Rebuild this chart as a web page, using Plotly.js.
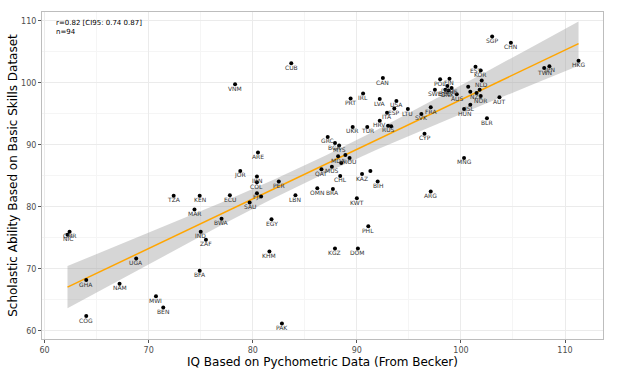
<!DOCTYPE html>
<html>
<head>
<meta charset="utf-8">
<script src="https://cdn.plot.ly/plotly-3.0.1.min.js"></script>
<style>html,body{margin:0;padding:0;background:#fff}#chart{width:630px;height:369px}</style>
</head>
<body>
<div id="chart"></div>
<script>
// Country codes (empty = label hidden in the reference)
const codes = ["SGP","CHN","HKG","JPN","TWN","EST","KOR","NLD","POL","FIN",
  "SWE","DEU","CHE","BEL","DNK","AUS","","","NZL","",
  "NOR","AUT","HUN","ISL","BLR","FRA","SVK","CYP","MNG","ARG",
  "CAN","PRT","IRL","LVA","USA","LTU","ESP","ITA","HRV","RUS",
  "","UKR","TUR","GRC","BGR","MYS","MDA","","","ROU",
  "QAT","MUS","CHL","KAZ","","BIH","OMN","BRA","KWT","PHL",
  "KGZ","DOM","PAK","KHM","EGY","LBN","PER","ARE","JOR","IRN",
  "COL","FJI","","SAU","ECU","TZA","KEN","MAR","BWA","IND",
  "ZAF","BFA","UGA","GHA","NAM","MWI","BEN","COG","CMR","NIC",
  "VNM","CUB"];
// IQ based on psychometric data (x)
const iq = [103.0,104.8,111.3,108.5,108.0,101.4,101.9,102.0,98.0,98.9,
  97.5,98.7,99.1,98.5,98.8,99.6,100.7,100.9,101.5,101.8,
  101.9,103.7,100.3,100.9,102.5,97.1,96.2,96.5,100.3,97.1,
  92.5,89.4,90.6,92.2,93.8,94.9,93.6,92.9,92.2,93.0,
  93.3,89.6,91.0,87.2,87.9,88.3,88.2,88.9,88.5,89.3,
  86.6,87.6,88.4,90.5,91.3,92.0,86.2,87.7,90.0,91.1,
  87.9,90.1,82.8,81.6,81.8,84.1,82.5,80.5,78.8,80.4,
  80.4,80.4,80.8,79.7,77.8,72.4,74.9,74.4,77.0,75.0,
  75.5,74.9,68.8,64.0,67.2,70.7,71.4,64.0,62.4,62.2,
  78.3,83.7];
// Scholastic ability (y)
const sas = [107.5,106.5,103.6,102.7,102.4,102.6,102.0,100.4,100.6,100.7,
  98.9,99.5,99.2,98.9,98.8,98.2,99.4,98.6,98.4,98.9,
  97.9,97.7,95.8,96.5,94.3,96.1,95.0,91.8,87.9,82.5,
  100.8,97.5,98.3,97.4,97.1,95.8,95.9,95.2,93.9,93.1,
  93.0,92.9,92.9,91.3,90.3,89.9,88.2,88.4,87.1,87.9,
  86.1,86.5,85.0,85.3,85.8,84.1,83.0,82.9,81.4,76.9,
  73.3,73.3,61.2,72.8,78.0,81.9,84.1,88.8,85.8,84.9,
  84.0,82.2,81.7,80.7,81.9,81.8,81.8,79.6,78.1,76.0,
  74.7,69.7,71.7,68.2,67.6,65.6,63.8,62.4,76.0,75.5,
  99.8,103.2];
// Regression fit and 95% band
const fitX = [62.2,67,72,77,82,87,92,97,102,107,111.3];
const fitY = [67.06,70.9,74.9,78.9,82.9,86.9,90.9,94.9,98.9,102.9,106.34];
const fitLo = [63.66,68.05,72.6,77.07,81.41,85.49,89.3,92.9,96.39,99.82,102.76];
const fitHi = [70.46,73.75,77.2,80.73,84.39,88.31,92.5,96.9,101.41,105.98,109.92];
const statText = ["r=0.82 [CI95: 0.74 0.87]","n=94"];

const traces = [
  {x: fitX, y: fitLo, mode:'lines', line:{width:0}, hoverinfo:'skip', showlegend:false},
  {x: fitX, y: fitHi, mode:'lines', line:{width:0}, fill:'tonexty', fillcolor:'rgba(153,153,153,0.4)', hoverinfo:'skip', showlegend:false},
  {x: fitX, y: fitY, mode:'lines', line:{color:'#FFA500', width:1.5}, showlegend:false},
  {x: iq, y: sas, mode:'markers', marker:{color:'#000', size:4}, showlegend:false}
];

const labelAnn = codes.map((c, i) => c ? ({
  x: iq[i], y: sas[i], xref:'x', yref:'y', text: c, showarrow:false,
  yshift:-4, font:{family:'DejaVu Sans', size:6, color:'#333'}
}) : null).filter(a => a);

const axisBase = {
  showgrid:true, gridcolor:'#ebebeb', gridwidth:1,
  minor:{dtick:5, showgrid:true, gridcolor:'#f5f5f5', gridwidth:1},
  zeroline:false, showline:true, mirror:true, linecolor:'#bdbdbd', linewidth:1,
  ticks:'outside', ticklen:3, tickcolor:'#555', dtick:10,
  tickfont:{family:'DejaVu Sans', size:8, color:'#4d4d4d'}
};

const layout = {
  width:630, height:369,
  margin:{l:42, r:27, t:12, b:30},
  paper_bgcolor:'#fff', plot_bgcolor:'#fff',
  xaxis: Object.assign({}, axisBase, {range:[59.75,113.65],
    title:{text:'IQ Based on Pychometric Data (From Becker)', font:{family:'DejaVu Sans', size:12, color:'#000'}, standoff:2}}),
  yaxis: Object.assign({}, axisBase, {range:[58.7,111.45],
    title:{text:'Scholastic Ability Based on Basic Skills Dataset', font:{family:'DejaVu Sans', size:12, color:'#000'}, standoff:0}}),
  annotations: [{xref:'paper', yref:'paper', x:0.022, y:0.985, xanchor:'left', yanchor:'top', align:'left', showarrow:false,
    text: statText.join('<br>'), font:{family:'DejaVu Sans', size:7, color:'#000'}}].concat(labelAnn)
};

Plotly.newPlot('chart', traces, layout, {displayModeBar:false, staticPlot:true});
</script>
</body>
</html>
